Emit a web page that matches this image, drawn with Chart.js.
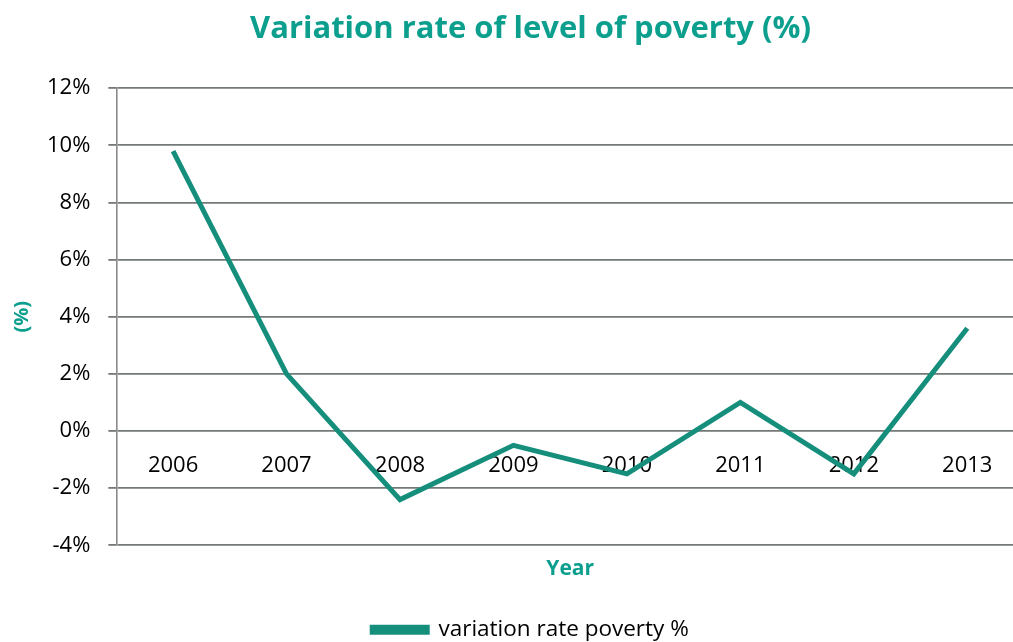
<!DOCTYPE html>
<html>
<head>
<meta charset="utf-8">
<script src="https://cdn.jsdelivr.net/npm/chart.js@4/dist/chart.umd.min.js"></script>
<style>
  html, body { margin: 0; padding: 0; background: #fff; overflow: hidden; }
  #wrap { width: 1062px; height: 642px; }
</style>
</head>
<body>
<div id="wrap"><canvas id="myChart" width="1062" height="642"></canvas></div>
<script>
const years = ['2006', '2007', '2008', '2009', '2010', '2011', '2012', '2013'];
const povertyRate = [9.8, 2.0, -2.4, -0.5, -1.5, 1.0, -1.5, 3.6];
const yTicks = [-4, -2, 0, 2, 4, 6, 8, 10, 12];

const teal = '#0c9f8e';
const lineTeal = '#158e7c';
const gridGray = '#737977';
const font = "'Open Sans', 'DejaVu Sans', sans-serif";

const chartContext = document.getElementById('myChart').getContext('2d');
new Chart(chartContext, {
    type: 'line',
    data: {
        labels: years,
        datasets: [
            {
                label: 'variation rate poverty %',
                data: povertyRate,
                borderColor: lineTeal,
                backgroundColor: lineTeal,
                borderWidth: 5,
                borderJoinStyle: 'miter',
                pointRadius: 0,
                tension: 0,
                xAxisID: 'x',
                yAxisID: 'y'
            }
        ]
    },
    options: {
        responsive: false,
        animation: false,
        layout: {
            padding: { top: 0, bottom: -9, left: 1, right: 2 }
        },
        plugins: {
            tooltip: { enabled: false },
            title: {
                display: true,
                text: 'Variation rate of level of poverty (%)',
                color: teal,
                font: { family: font, size: 31, weight: 'bold' },
                padding: { top: 11, bottom: 40 }
            },
            legend: {
                position: 'bottom',
                labels: {
                    color: '#000',
                    font: { family: font, size: 22.5 },
                    boxWidth: 55,
                    boxHeight: 5,
                    padding: 0
                }
            }
        },
        scales: {
            x: {
                type: 'category',
                position: 'bottom',
                offset: true,
                grid: { display: false, drawTicks: false },
                border: { display: false },
                ticks: { display: false },
                title: {
                    display: true,
                    text: 'Year',
                    color: teal,
                    font: { family: font, size: 21, weight: 'bold' },
                    padding: { top: 11, bottom: 37 }
                }
            },
            xl: {
                type: 'category',
                position: { y: 0 },
                offset: true,
                grid: { display: false, drawTicks: false },
                border: { display: false },
                ticks: {
                    color: '#000',
                    font: { family: font, size: 22 },
                    padding: 22,
                    maxRotation: 0
                }
            },
            y: {
                type: 'linear',
                min: -4,
                max: 12,
                afterBuildTicks: (scale) =>
                {
                    scale.ticks = yTicks.map(v => ({ value: v }));
                },
                grid: {
                    color: gridGray,
                    lineWidth: 1.8,
                    tickLength: 8,
                    drawTicks: true
                },
                border: { display: true, color: '#8a8a8a', width: 1.6 },
                ticks: {
                    color: '#000',
                    font: { family: font, size: 22 },
                    padding: 18,
                    callback: function (value)
                    {
                        return value + '%';
                    }
                },
                title: {
                    display: true,
                    text: '(%)',
                    color: teal,
                    font: { family: font, size: 20, weight: 'bold' },
                    padding: { top: 9, bottom: -5 }
                }
            },
            // empty strip to the right so the plot runs past the window edge
            yRight: {
                type: 'linear',
                position: 'right',
                display: true,
                grid: { display: false, drawTicks: false },
                border: { display: false },
                ticks: { display: false },
                afterFit: (scale) =>
                {
                    scale.width = 36;
                }
            }
        }
    }
});
</script>
</body>
</html>
